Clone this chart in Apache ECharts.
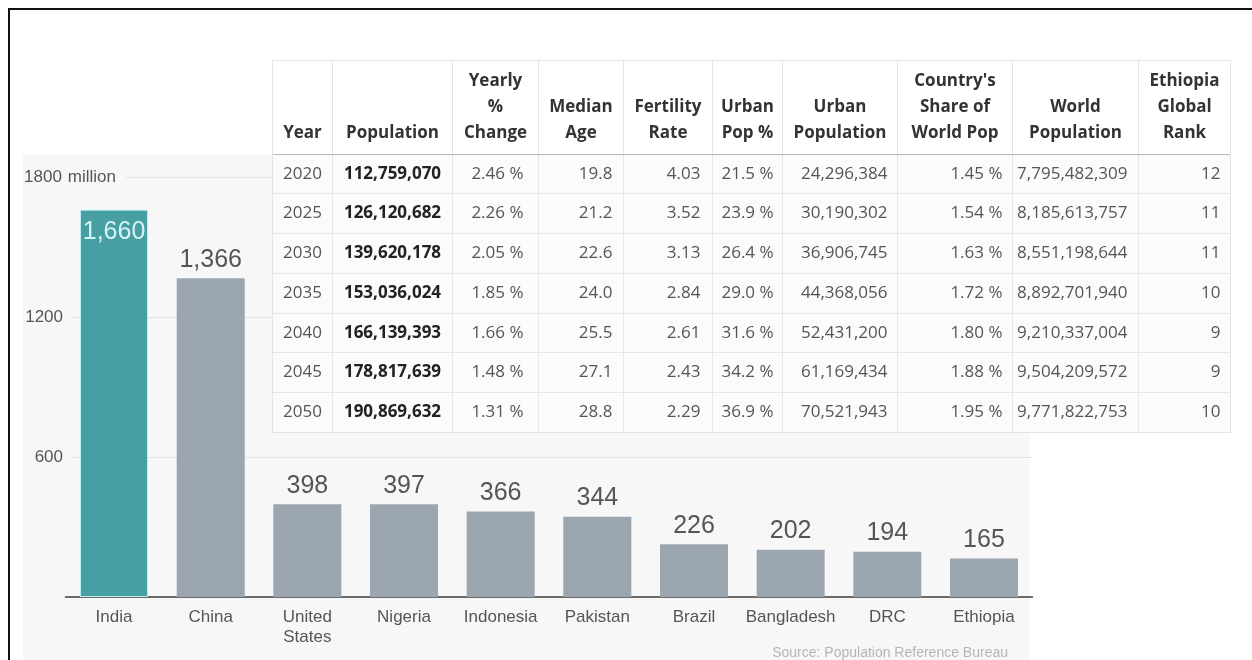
<!DOCTYPE html>
<html><head><meta charset="utf-8">
<script src="https://cdn.jsdelivr.net/npm/echarts@6/dist/echarts.min.js"></script>
<style>html,body{margin:0;padding:0;background:#fff}#c{width:1252px;height:660px}</style>
</head><body><div id="c"></div>
<script>
// ---- bar chart data (millions, 2050 projection) ----
const countries = ['India','China','United\nStates','Nigeria','Indonesia','Pakistan','Brazil','Bangladesh','DRC','Ethiopia'];
const population2050 = [1660,1366,398,397,366,344,226,202,194,165];
const yTickValues = [0,600,1200,1800];
const sourceText = 'Source: Population Reference Bureau';

// ---- table data (Ethiopia) ----
const tableHeaders = ['Year','Population','Yearly\n%\nChange','Median\nAge','Fertility\nRate','Urban\nPop %','Urban\nPopulation',"Country's\nShare of\nWorld Pop",'World\nPopulation','Ethiopia\nGlobal\nRank'];
const years = [2020,2025,2030,2035,2040,2045,2050];
const population = [112759070,126120682,139620178,153036024,166139393,178817639,190869632];
const yearlyChange = [2.46,2.26,2.05,1.85,1.66,1.48,1.31];
const medianAge = [19.8,21.2,22.6,24.0,25.5,27.1,28.8];
const fertilityRate = [4.03,3.52,3.13,2.84,2.61,2.43,2.29];
const urbanPopPct = [21.5,23.9,26.4,29.0,31.6,34.2,36.9];
const urbanPopulation = [24296384,30190302,36906745,44368056,52431200,61169434,70521943];
const worldShare = [1.45,1.54,1.63,1.72,1.80,1.88,1.95];
const worldPopulation = [7795482309,8185613757,8551198644,8892701940,9210337004,9504209572,9771822753];
const globalRank = [12,11,11,10,9,9,10];

// ---- layout / styling (not data) ----
const colWidths = [60,120,86,85,89,70,115,115,126,92];
const colPos = ['inside','inside','insideRight','insideRight','insideRight','inside','insideRight','insideRight','insideRight','insideRight'];
const colDist = [0,0,12,8,9,0,7,7,8,7];
const fmtInt = v => v.toLocaleString('en-US');
const pct = (v, d) => v.toFixed(d) + ' %';
const columns = [
  r => String(years[r]),
  r => fmtInt(population[r]),
  r => pct(yearlyChange[r], 2),
  r => medianAge[r].toFixed(1),
  r => fertilityRate[r].toFixed(2),
  r => pct(urbanPopPct[r], 1),
  r => fmtInt(urbanPopulation[r]),
  r => pct(worldShare[r], 2),
  r => fmtInt(worldPopulation[r]),
  r => String(globalRank[r])
];
const cells = [];
years.forEach((y, r) => {
  columns.forEach((f, c) => {
    const lab = { position: colPos[c], distance: colDist[c] };
    if (c === 1) { lab.fontWeight = 'bold'; lab.color = '#222'; }
    cells.push({ coord: [c, r], value: f(r), label: lab });
  });
});
const headerData = tableHeaders.map((h, i) => {
  const n = h.split('\n').length;
  return { value: '\n'.repeat(3 - n) + h, size: colWidths[i] };
});

const chart = echarts.init(document.getElementById('c'));
chart.setOption({
  backgroundColor: '#ffffff',
  animation: false,
  title: {
    text: sourceText, right: 239, top: 641,
    textStyle: { fontSize: 14, color: '#b5b5b5', fontWeight: 'normal', fontFamily: 'Liberation Sans' }
  },
  graphic: [
    { type: 'rect', z: -1, shape: { x: 23, y: 155, width: 1007, height: 520 }, style: { fill: '#f7f7f7' } },
    { type: 'rect', z: 100, shape: { x: 9, y: 9, width: 1300, height: 700 }, style: { fill: 'none', stroke: '#111', lineWidth: 2 } }
  ],
  grid: { left: 65.7, right: 219.7, top: 177, bottom: 63 },
  xAxis: {
    type: 'category', data: countries,
    axisLine: { lineStyle: { color: '#6b6b6b', width: 2 } },
    axisTick: { show: false },
    axisLabel: { interval: 0, color: '#555', fontSize: 17, lineHeight: 20, margin: 10, fontFamily: 'Liberation Sans' }
  },
  yAxis: {
    type: 'value', min: 0, max: 1800, interval: 600,
    axisLine: { show: false }, axisTick: { show: false },
    splitLine: { lineStyle: { color: '#e2e2e2', width: 1 } },
    axisLabel: {
      align: 'left', margin: 42.7,
      backgroundColor: '#f7f7f7', padding: [2, 10, 2, 0],
      formatter: v => (v === 0 ? '' : (v === yTickValues[3] ? '{n|' + v + '}{u| million}' : '{n|' + v + '}')),
      rich: {
        n: { width: 40, align: 'right', fontSize: 17, color: '#555', fontFamily: 'Liberation Sans' },
        u: { fontSize: 17, color: '#555', fontFamily: 'Liberation Sans' }
      }
    }
  },
  series: [{
    type: 'bar', barWidth: 68, z: 2,
    data: population2050.map((v, i) => i === 0
      ? { value: v, itemStyle: { color: '#479ea3', borderColor: '#bdeef0', borderWidth: 1 }, label: { position: 'insideTop', color: '#d6f3f4', distance: 10 } }
      : v),
    itemStyle: { color: '#9ba6b1' },
    label: {
      show: true, position: 'top', distance: 6, fontSize: 25, color: '#555', fontFamily: 'Liberation Sans',
      formatter: p => fmtInt(p.value)
    }
  }],
  matrix: {
    left: 272, top: 60, width: 958, height: 372, z: 10,
    x: {
      data: headerData, levelSize: 94,
      label: { fontFamily: 'Open Sans', fontWeight: 'bold', fontSize: 17, color: '#333', lineHeight: 26, padding: [6, 0, 0, 0] },
      itemStyle: { color: '#ffffff', borderColor: '#e4e4e4', borderWidth: 1 }
    },
    y: { data: years.map(String), show: false },
    body: {
      data: cells,
      itemStyle: { color: '#fbfbfb', borderColor: '#e6e6e6', borderWidth: 1 },
      label: { fontFamily: 'Open Sans', fontSize: 17, color: '#555', verticalAlign: 'middle', overflow: 'none' }
    },
    backgroundStyle: { color: '#ffffff', borderColor: '#e4e4e4', borderWidth: 1 }
  }
});
</script></body></html>
